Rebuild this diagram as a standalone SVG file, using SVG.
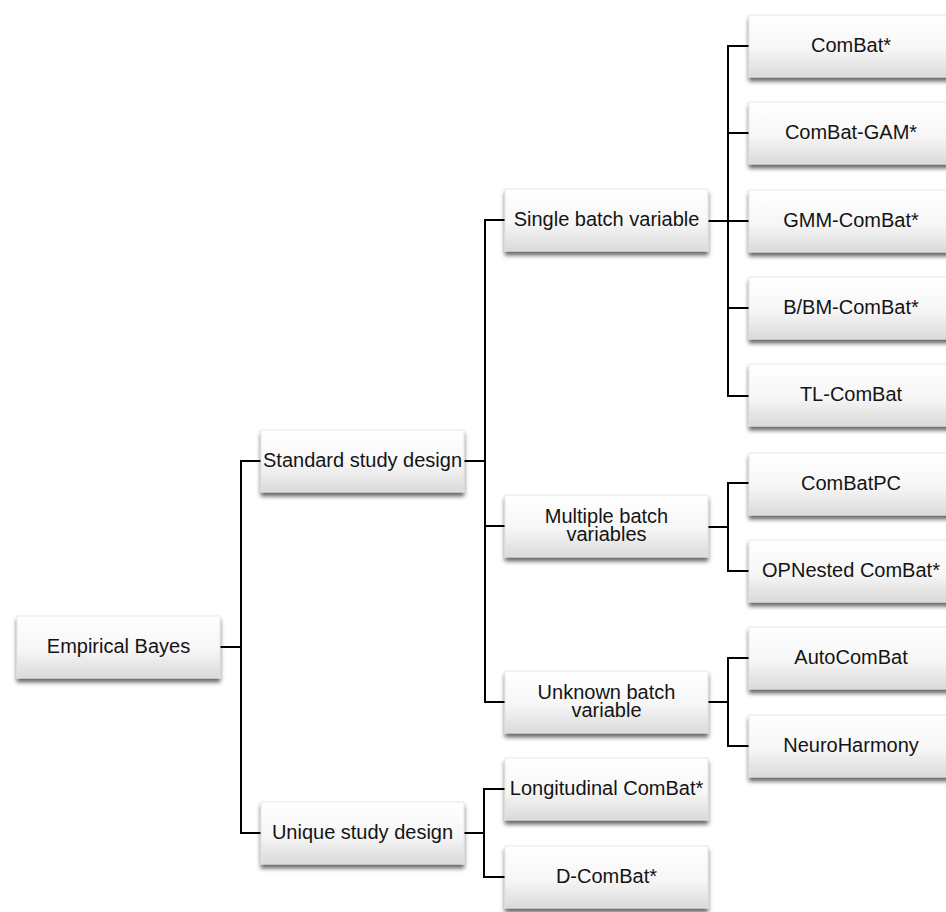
<svg xmlns="http://www.w3.org/2000/svg" width="946" height="912" viewBox="0 0 946 912">
<style>
.box{fill:url(#g);stroke:#e2e2e2;stroke-width:0.8;filter:url(#sh)}
.t{font-family:"Liberation Sans",Arial,Helvetica,sans-serif;font-size:20px;fill:#141414;text-anchor:middle}
.c{fill:none;stroke:#000;stroke-width:2;stroke-linecap:square;stroke-linejoin:miter}
</style>
<defs>
<linearGradient id="g" x1="0" y1="0" x2="0" y2="1">
<stop offset="0" stop-color="#ffffff"/>
<stop offset="0.55" stop-color="#f6f6f6"/>
<stop offset="1" stop-color="#dadada"/>
</linearGradient>
<filter id="sh" x="-10%" y="-20%" width="120%" height="160%">
<feDropShadow dx="0" dy="4" stdDeviation="2" flood-color="#000" flood-opacity="0.6"/>
</filter>
</defs>
<rect width="946" height="912" fill="#fff"/>
<g id="connectors">
<path class="c" d="M220 647H241M241 461V833M241 461H261M241 833H261"/>
<path class="c" d="M464 461H485M485 220V702M485 220H505M485 526H505M485 702H505"/>
<path class="c" d="M708 221H728M728 46V396M728 46H749M728 133H749M728 221H749M728 308H749M728 396H749"/>
<path class="c" d="M708 527H728M728 483V571M728 483H749M728 571H749"/>
<path class="c" d="M708 702H728M728 658V746M728 658H749M728 746H749"/>
<path class="c" d="M464 833H484M484 789V877M484 789H505M484 877H505"/>
</g>
<g id="empirical-bayes"><rect class="box" x="17" y="616" width="203" height="62"/><text class="t" x="118.5" y="653">Empirical Bayes</text></g>
<g id="standard-study-design"><rect class="box" x="261" y="430" width="203" height="62"/><text class="t" x="362.5" y="467">Standard study design</text></g>
<g id="unique-study-design"><rect class="box" x="261" y="802" width="203" height="62"/><text class="t" x="362.5" y="839">Unique study design</text></g>
<g id="single-batch-variable"><rect class="box" x="505" y="189" width="203" height="62"/><text class="t" x="606.5" y="226">Single batch variable</text></g>
<g id="multiple-batch-variables"><rect class="box" x="505" y="495" width="203" height="62"/><text class="t" x="606.5" y="523">Multiple batch<tspan x="606.5" dy="18">variables</tspan></text></g>
<g id="unknown-batch-variable"><rect class="box" x="505" y="671" width="203" height="62"/><text class="t" x="606.5" y="699">Unknown batch<tspan x="606.5" dy="18">variable</tspan></text></g>
<g id="longitudinal-combat"><rect class="box" x="505" y="758" width="203" height="62"/><text class="t" x="606.5" y="795">Longitudinal ComBat*</text></g>
<g id="d-combat"><rect class="box" x="505" y="846" width="203" height="62"/><text class="t" x="606.5" y="883">D-ComBat*</text></g>
<g id="combat"><rect class="box" x="749" y="15" width="204" height="62"/><text class="t" x="851" y="52">ComBat*</text></g>
<g id="combat-gam"><rect class="box" x="749" y="102" width="204" height="62"/><text class="t" x="851" y="139">ComBat-GAM*</text></g>
<g id="gmm-combat"><rect class="box" x="749" y="190" width="204" height="62"/><text class="t" x="851" y="227">GMM-ComBat*</text></g>
<g id="b-bm-combat"><rect class="box" x="749" y="277" width="204" height="62"/><text class="t" x="851" y="314">B/BM-ComBat*</text></g>
<g id="tl-combat"><rect class="box" x="749" y="364" width="204" height="62"/><text class="t" x="851" y="401">TL-ComBat</text></g>
<g id="combatpc"><rect class="box" x="749" y="453" width="204" height="62"/><text class="t" x="851" y="490">ComBatPC</text></g>
<g id="opnested-combat"><rect class="box" x="749" y="540" width="204" height="62"/><text class="t" x="851" y="577">OPNested ComBat*</text></g>
<g id="autocombat"><rect class="box" x="749" y="627" width="204" height="62"/><text class="t" x="851" y="664">AutoComBat</text></g>
<g id="neuroharmony"><rect class="box" x="749" y="715" width="204" height="62"/><text class="t" x="851" y="752">NeuroHarmony</text></g>
</svg>
